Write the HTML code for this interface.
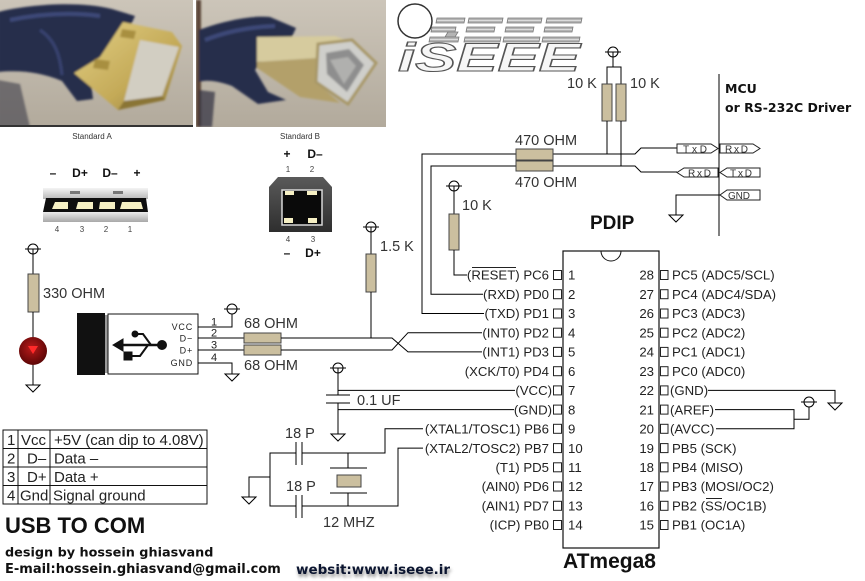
<!DOCTYPE html>
<html><head><meta charset="utf-8">
<style>
html,body{margin:0;padding:0;background:#fff;}
svg{display:block;}
text{font-family:"Liberation Sans",Arial,sans-serif;}
.w{fill:none;stroke:#000;stroke-width:1;}
.r{fill:#cbbf9f;stroke:#444;stroke-width:1;}
.lb{font-size:14.5px;fill:#333;}
.pl{font-size:13.2px;fill:#222;}
.bx{fill:#fff;stroke:#222;stroke-width:1;}
.bt{font-size:10px;fill:#333;}
.dj{font-family:"DejaVu Sans",sans-serif;font-weight:bold;}
</style></head><body>
<svg width="865" height="581" viewBox="0 0 865 581" xmlns="http://www.w3.org/2000/svg">
<defs>
 <filter id="bl" x="-10%" y="-10%" width="120%" height="120%"><feGaussianBlur stdDeviation="1.1"/></filter>
 <filter id="sh" x="-10%" y="-50%" width="120%" height="200%"><feGaussianBlur stdDeviation="1.6"/></filter>
 <linearGradient id="bgA" x1="0" y1="0" x2="0" y2="1"><stop offset="0" stop-color="#ccc5b9"/><stop offset="1" stop-color="#b2aa9c"/></linearGradient>
 <linearGradient id="gold" x1="0" y1="0" x2="1" y2="1"><stop offset="0" stop-color="#e2cf85"/><stop offset="0.6" stop-color="#c4aa58"/><stop offset="1" stop-color="#8f7a3a"/></linearGradient>
 <linearGradient id="ua" x1="0" y1="0" x2="0" y2="1"><stop offset="0" stop-color="#f4f4f4"/><stop offset="1" stop-color="#b8b8b8"/></linearGradient>
 <linearGradient id="ub" x1="0" y1="0" x2="0" y2="1"><stop offset="0" stop-color="#ececec"/><stop offset="1" stop-color="#a8a8a8"/></linearGradient>
 <linearGradient id="bb" x1="0" y1="0" x2="0" y2="1"><stop offset="0" stop-color="#5a5a5a"/><stop offset="1" stop-color="#2e2e2e"/></linearGradient>
 <radialGradient id="led" cx="0.45" cy="0.4" r="0.6"><stop offset="0" stop-color="#b81a1a"/><stop offset="1" stop-color="#5c0606"/></radialGradient>
 <clipPath id="cA"><rect x="0" y="0" width="193" height="127"/></clipPath>
 <clipPath id="cB"><rect x="196" y="0" width="190" height="127"/></clipPath>
 <g id="vcc"><circle cx="0" cy="0" r="5" fill="#fff" stroke="#000"/><line x1="-8" y1="0" x2="8" y2="0" stroke="#000"/></g>
 <g id="gnd"><line x1="-7" y1="0" x2="7" y2="0" stroke="#000"/><polygon points="-7,0 7,0 0,7" fill="#fff" stroke="#000"/></g>
</defs>

<!-- ===== Photo A ===== -->
<g clip-path="url(#cA)">
 <rect x="0" y="0" width="193" height="127" fill="url(#bgA)"/>
 <g filter="url(#bl)">
  <path d="M-2,12 C30,4 80,1 112,9 L135,16 L129,29 L102,55 L90,75 L93,99 L77,101 L62,81 C40,72 20,70 -2,72 Z" fill="#262d4c"/>
  <path d="M10,20 C40,14 70,12 100,16" stroke="#3d4878" stroke-width="4" fill="none"/>
  <path d="M40,30 C55,40 60,55 62,75" stroke="#384370" stroke-width="3" fill="none"/>
  <path d="M-2,80 L20,84 L30,127 L-2,127 Z" fill="#3a3a48" opacity="0.6"/>
  <path d="M123,22 L172,32 L182,46 L165,100 L118,110 L74,73 L100,57 Z" fill="url(#gold)"/>
  <path d="M140,40 L179,47 L162,96 L124,101 Z" fill="#d2cec2"/>
  <path d="M122,29 L136,31 L134,39 L120,37 Z" fill="#a88f40"/>
  <path d="M95,59 L110,61 L108,70 L93,68 Z" fill="#a88f40"/>
  <path d="M118,110 L165,100 L162,96 L124,101 Z" fill="#8a7434"/>
 </g>
 <rect x="0" y="125" width="193" height="2" fill="#333"/>
</g>

<!-- ===== Photo B ===== -->
<g clip-path="url(#cB)">
 <rect x="196" y="0" width="190" height="127" fill="url(#bgA)"/>
 <g filter="url(#bl)">
  <rect x="196" y="0" width="5" height="127" fill="#5a4438"/>
  <path d="M199,30 C220,22 250,15 270,17 L296,28 L290,41 L262,60 L255,70 L268,92 L286,100 L258,104 L232,86 C215,80 205,80 199,82 Z" fill="#262d4c"/>
  <path d="M205,40 C225,32 250,27 275,26" stroke="#3d4878" stroke-width="4" fill="none"/>
  <path d="M199,90 L215,92 L212,127 L199,127 Z" fill="#2e3040" opacity="0.7"/>
  <path d="M257,37 L335,36 L352,42 L318,58 L257,62 Z" fill="#d6cb9e"/>
  <path d="M257,62 L318,58 L316,82 L340,103 L300,97 L257,68 Z" fill="#b3a06a"/>
  <path d="M318,44 L352,40 L376,63 L348,104 L316,82 Z" fill="#cfcfcb" stroke="#a89868" stroke-width="3"/>
  <path d="M326,53 L349,49 L364,65 L347,92 L327,74 Z" fill="#8e8e8e"/>
  <path d="M330,60 L348,57 L356,66 L344,84 Z" fill="#b0b0ae"/>
 </g>
</g>
<text x="92" y="139" font-size="8" fill="#333" text-anchor="middle">Standard A</text>
<text x="300" y="139" font-size="8" fill="#333" text-anchor="middle">Standard B</text>

<!-- ===== Logo ===== -->
<circle cx="415" cy="21" r="17" fill="#fff" stroke="#333" stroke-width="1.5"/>
<g fill="#b4b4b4" stroke="#7a7a7a" stroke-width="0.8">
 <polygon points="437,18 465,18 464,23 436,23"/>
 <polygon points="432,27 456,27 455,32 431,32"/>
 <polygon points="448,32 458,32 455,37 445,37"/>
 <polygon points="430,37 459,37 458,42 429,42"/>
 <polygon points="469,18 503,18 502,23 468,23"/>
 <polygon points="467,27 495,27 494,32 466,32"/>
 <polygon points="465,37 501,37 500,42 464,42"/>
 <polygon points="508,18 542,18 541,23 507,23"/>
 <polygon points="506,27 534,27 533,32 505,32"/>
 <polygon points="504,37 540,37 539,42 503,42"/>
 <polygon points="547,18 582,18 581,23 546,23"/>
 <polygon points="545,27 573,27 572,32 544,32"/>
 <polygon points="543,37 580,37 579,42 542,42"/>
</g>
<g stroke="#e8e8e8" stroke-width="0.8">
 <line x1="437" y1="20.5" x2="464" y2="20.5"/><line x1="469" y1="20.5" x2="502" y2="20.5"/><line x1="508" y1="20.5" x2="541" y2="20.5"/><line x1="547" y1="20.5" x2="581" y2="20.5"/>
 <line x1="432" y1="29.5" x2="455" y2="29.5"/><line x1="467" y1="29.5" x2="494" y2="29.5"/><line x1="506" y1="29.5" x2="533" y2="29.5"/><line x1="545" y1="29.5" x2="572" y2="29.5"/>
 <line x1="430" y1="39.5" x2="458" y2="39.5"/><line x1="465" y1="39.5" x2="500" y2="39.5"/><line x1="504" y1="39.5" x2="539" y2="39.5"/><line x1="543" y1="39.5" x2="579" y2="39.5"/>
</g>
<text x="398" y="71" font-size="40" font-weight="bold" font-style="italic" fill="#f6f6f6" stroke="#555" stroke-width="1.1" textLength="182" lengthAdjust="spacingAndGlyphs">iSEEE</text>

<!-- ===== USB A icon ===== -->
<text x="53" y="177" font-size="12" font-weight="bold" fill="#111" text-anchor="middle">–</text>
<text x="80" y="177" font-size="12" font-weight="bold" fill="#111" text-anchor="middle">D+</text>
<text x="110" y="177" font-size="12" font-weight="bold" fill="#111" text-anchor="middle">D–</text>
<text x="137" y="177" font-size="12" font-weight="bold" fill="#111" text-anchor="middle">+</text>
<rect x="43" y="188" width="105" height="11" fill="url(#ua)"/>
<rect x="70" y="191" width="10" height="3" fill="#777"/>
<rect x="113" y="191" width="10" height="3" fill="#777"/>
<path d="M46,198 L146,198 L148,212 L43,212 Z" fill="#0e0e0e"/>
<rect x="43" y="212" width="105" height="10" fill="url(#ub)"/>
<g fill="#f6f0c4">
 <path d="M55,202 L68,202 L68,209 L52,209 Z"/>
 <path d="M78,202 L93,202 L93,209 L76,209 Z"/>
 <path d="M100,202 L115,202 L115,209 L99,209 Z"/>
 <path d="M122,202 L141,202 L143,209 L120,209 Z"/>
</g>
<g font-size="8" fill="#444" text-anchor="middle">
 <text x="57" y="232">4</text><text x="82" y="232">3</text><text x="106" y="232">2</text><text x="130" y="232">1</text>
</g>

<!-- ===== USB B icon ===== -->
<text x="287" y="158" font-size="12" font-weight="bold" fill="#111" text-anchor="middle">+</text>
<text x="315" y="158" font-size="12" font-weight="bold" fill="#111" text-anchor="middle">D–</text>
<text x="288" y="172" font-size="8" fill="#444" text-anchor="middle">1</text>
<text x="312" y="172" font-size="8" fill="#444" text-anchor="middle">2</text>
<path d="M278,177 L323,177 L332,187 L332,232 L269,232 L269,187 Z" fill="url(#bb)"/>
<rect x="282" y="190" width="40" height="35" fill="#0a0a0a" stroke="#d8d8d8" stroke-width="1.5"/>
<g fill="#f6f0c4">
 <rect x="285" y="191" width="9" height="4"/><rect x="307" y="191" width="10" height="4"/>
 <rect x="284" y="218" width="9" height="5"/><rect x="308" y="218" width="9" height="5"/>
</g>
<text x="288" y="242" font-size="8" fill="#444" text-anchor="middle">4</text>
<text x="313" y="242" font-size="8" fill="#444" text-anchor="middle">3</text>
<text x="287" y="257" font-size="12" font-weight="bold" fill="#111" text-anchor="middle">–</text>
<text x="313" y="257" font-size="12" font-weight="bold" fill="#111" text-anchor="middle">D+</text>

<!-- ===== Top right: pullups, 470 ohm, bus ===== -->
<use href="#vcc" x="613" y="52"/>
<polyline class="w" points="613,52 613,67"/>
<polyline class="w" points="607,84 607,67 621,67 621,84"/>
<rect class="r" x="602" y="84" width="10" height="37"/>
<rect class="r" x="616" y="84" width="10" height="37"/>
<polyline class="w" points="607,121 607,154"/>
<polyline class="w" points="621,121 621,166"/>
<text class="lb" x="567" y="88">10 K</text>
<text class="lb" x="630" y="88">10 K</text>

<polyline class="w" points="484,313.5 422,313.5 422,154 516,154"/>
<polyline class="w" points="553,154 635,154 641,148 677,148"/>
<polyline class="w" points="483,294.2 431,294.2 431,166 516,166"/>
<polyline class="w" points="553,166 635,166 641,172 677,172"/>
<rect class="r" x="516" y="149" width="37" height="11"/>
<rect class="r" x="516" y="161" width="37" height="10"/>
<text class="lb" x="515" y="145">470 OHM</text>
<text class="lb" x="515" y="187">470 OHM</text>

<line class="w" x1="719" y1="74" x2="719" y2="236"/>
<polygon class="bx" points="677,144 711,144 718,148.5 711,153 677,153"/>
<polygon class="bx" points="720,144 753,144 760,148.5 753,153 720,153"/>
<polygon class="bx" points="684,168 718,168 718,177 684,177 677,172.5"/>
<polygon class="bx" points="727,168 760,168 760,177 727,177 720,172.5"/>
<polygon class="bx" points="727,190 760,190 760,200 727,200 720,195"/>
<text class="bt" x="683" y="152.5" textLength="24">TxD</text>
<text class="bt" x="725" y="152.5" textLength="23">RxD</text>
<text class="bt" x="688" y="176.5" textLength="23">RxD</text>
<text class="bt" x="730" y="176.5" textLength="22">TxD</text>
<text class="bt" x="728" y="199" textLength="22">GND</text>
<polyline class="w" points="720,195 676,195 676,215"/>
<use href="#gnd" x="676" y="215"/>
<text class="dj" x="725" y="93" font-size="12.5" fill="#111">MCU</text>
<text class="dj" x="725" y="112" font-size="12.5" fill="#111">or RS-232C Driver</text>

<!-- reset pullup -->
<use href="#vcc" x="454" y="186"/>
<polyline class="w" points="454,186 454,214"/>
<rect class="r" x="449" y="214" width="10" height="36"/>
<polyline class="w" points="454,250 454,275 467,275"/>
<text class="lb" x="462" y="210">10 K</text>

<text x="590" y="229" font-size="19" font-weight="bold" fill="#111">PDIP</text>

<!-- ===== Chip ===== -->
<rect x="563" y="251" width="96" height="297" fill="#fff" stroke="#111" stroke-width="1.2"/>
<path d="M601,251 A10,10 0 0 0 621,251" fill="none" stroke="#111"/>
<text x="563" y="568" font-size="21" font-weight="bold" fill="#111">ATmega8</text>

<g fill="#fff" stroke="#222" stroke-width="1">
 <rect x="553.5" y="270.5" width="8" height="9"/><rect x="553.5" y="289.7" width="8" height="9"/>
 <rect x="553.5" y="309" width="8" height="9"/><rect x="553.5" y="328.2" width="8" height="9"/>
 <rect x="553.5" y="347.4" width="8" height="9"/><rect x="553.5" y="366.7" width="8" height="9"/>
 <rect x="553.5" y="385.9" width="8" height="9"/><rect x="553.5" y="405.1" width="8" height="9"/>
 <rect x="553.5" y="424.3" width="8" height="9"/><rect x="553.5" y="443.6" width="8" height="9"/>
 <rect x="553.5" y="462.8" width="8" height="9"/><rect x="553.5" y="482" width="8" height="9"/>
 <rect x="553.5" y="501.3" width="8" height="9"/><rect x="553.5" y="520.5" width="8" height="9"/>
 <rect x="660.5" y="270.5" width="7.5" height="9"/><rect x="660.5" y="289.7" width="7.5" height="9"/>
 <rect x="660.5" y="309" width="7.5" height="9"/><rect x="660.5" y="328.2" width="7.5" height="9"/>
 <rect x="660.5" y="347.4" width="7.5" height="9"/><rect x="660.5" y="366.7" width="7.5" height="9"/>
 <rect x="660.5" y="385.9" width="7.5" height="9"/><rect x="660.5" y="405.1" width="7.5" height="9"/>
 <rect x="660.5" y="424.3" width="7.5" height="9"/><rect x="660.5" y="443.6" width="7.5" height="9"/>
 <rect x="660.5" y="462.8" width="7.5" height="9"/><rect x="660.5" y="482" width="7.5" height="9"/>
 <rect x="660.5" y="501.3" width="7.5" height="9"/><rect x="660.5" y="520.5" width="7.5" height="9"/>
</g>

<g class="pl" text-anchor="end">
 <text x="549" y="279.7">(RESET) PC6</text>
 <text x="549" y="298.9">(RXD) PD0</text>
 <text x="549" y="318.2">(TXD) PD1</text>
 <text x="549" y="337.4">(INT0) PD2</text>
 <text x="549" y="356.6">(INT1) PD3</text>
 <text x="549" y="375.9">(XCK/T0) PD4</text>
 <text x="552" y="395.1">(VCC)</text>
 <text x="552" y="414.3">(GND)</text>
 <text x="549" y="433.5">(XTAL1/TOSC1) PB6</text>
 <text x="549" y="452.8">(XTAL2/TOSC2) PB7</text>
 <text x="549" y="472">(T1) PD5</text>
 <text x="549" y="491.2">(AIN0) PD6</text>
 <text x="549" y="510.5">(AIN1) PD7</text>
 <text x="549" y="529.7">(ICP) PB0</text>
</g>
<line x1="472" y1="267.5" x2="516" y2="267.5" stroke="#222"/>
<g class="pl">
 <text x="568" y="279.7">1</text><text x="568" y="298.9">2</text><text x="568" y="318.2">3</text>
 <text x="568" y="337.4">4</text><text x="568" y="356.6">5</text><text x="568" y="375.9">6</text>
 <text x="568" y="395.1">7</text><text x="568" y="414.3">8</text><text x="568" y="433.5">9</text>
 <text x="568" y="452.8">10</text><text x="568" y="472">11</text><text x="568" y="491.2">12</text>
 <text x="568" y="510.5">13</text><text x="568" y="529.7">14</text>
</g>
<g class="pl" text-anchor="end">
 <text x="654" y="279.7">28</text><text x="654" y="298.9">27</text><text x="654" y="318.2">26</text>
 <text x="654" y="337.4">25</text><text x="654" y="356.6">24</text><text x="654" y="375.9">23</text>
 <text x="654" y="395.1">22</text><text x="654" y="414.3">21</text><text x="654" y="433.5">20</text>
 <text x="654" y="452.8">19</text><text x="654" y="472">18</text><text x="654" y="491.2">17</text>
 <text x="654" y="510.5">16</text><text x="654" y="529.7">15</text>
</g>
<g class="pl">
 <text x="672" y="279.7">PC5 (ADC5/SCL)</text>
 <text x="672" y="298.9">PC4 (ADC4/SDA)</text>
 <text x="672" y="318.2">PC3 (ADC3)</text>
 <text x="672" y="337.4">PC2 (ADC2)</text>
 <text x="672" y="356.6">PC1 (ADC1)</text>
 <text x="672" y="375.9">PC0 (ADC0)</text>
 <text x="670" y="395.1">(GND)</text>
 <text x="670" y="414.3">(AREF)</text>
 <text x="670" y="433.5">(AVCC)</text>
 <text x="672" y="452.8">PB5 (SCK)</text>
 <text x="672" y="472">PB4 (MISO)</text>
 <text x="672" y="491.2">PB3 (MOSI/OC2)</text>
 <text x="672" y="510.5">PB2 (SS/OC1B)</text>
 <text x="672" y="529.7">PB1 (OC1A)</text>
</g>
<line x1="706" y1="498.5" x2="722" y2="498.5" stroke="#222"/>

<!-- right side wiring -->
<polyline class="w" points="708,390.4 835,390.4 835,403"/>
<use href="#gnd" x="835" y="403"/>
<polyline class="w" points="715,409.6 794,409.6 794,428.8 716,428.8"/>
<polyline class="w" points="794,419.3 809,419.3 809,402"/>
<use href="#vcc" x="809" y="402"/>

<!-- ===== 330 ohm + LED ===== -->
<use href="#vcc" x="33" y="249"/>
<polyline class="w" points="33,249 33,274"/>
<rect class="r" x="28" y="274" width="11" height="38"/>
<polyline class="w" points="33,312 33,337"/>
<circle cx="33" cy="351" r="14" fill="url(#led)"/>
<polygon points="28,346 38,346 33,354" fill="#ff2a2a"/>
<polyline class="w" points="33,365 33,385"/>
<use href="#gnd" x="33" y="385"/>
<text class="lb" x="43" y="298" font-size="15">330 OHM</text>

<!-- ===== USB connector symbol ===== -->
<rect x="77" y="313" width="28" height="62" fill="#111"/>
<rect x="105" y="315" width="3" height="58" fill="#999"/>
<rect x="108" y="314" width="90" height="60" fill="#fff" stroke="#111"/>
<g fill="#111" stroke="#111">
 <line x1="120" y1="345" x2="160" y2="345" stroke-width="2.5"/>
 <polygon points="113,345 123,339 123,351"/>
 <circle cx="162" cy="345" r="4.5"/>
 <polyline points="136,334 143,334 151,345" fill="none" stroke-width="2"/>
 <circle cx="135" cy="334" r="3"/>
 <polyline points="131,356 140,356 148,345" fill="none" stroke-width="2"/>
 <rect x="124" y="352" width="8" height="8"/>
</g>
<g font-size="9" fill="#222" text-anchor="end" letter-spacing="0.8">
 <text x="193" y="330">VCC</text><text x="193" y="341.5">D−</text><text x="193" y="353.5">D+</text><text x="193" y="366">GND</text>
</g>
<g font-size="11" fill="#222">
 <text x="211" y="325.5">1</text><text x="211" y="336.5">2</text><text x="211" y="348.5">3</text><text x="211" y="361">4</text>
</g>
<polyline class="w" points="198,327 232,327 232,309"/>
<use href="#vcc" x="232" y="309"/>
<polyline class="w" points="198,363 232,363 232,374"/>
<use href="#gnd" x="232" y="374"/>
<polyline class="w" points="198,338 244,338"/>
<polyline class="w" points="198,350 244,350"/>
<rect class="r" x="244" y="333" width="37" height="10"/>
<rect class="r" x="244" y="345" width="37" height="10"/>
<polyline class="w" points="281,338 392,338 408,351.9 482,351.9"/>
<polyline class="w" points="281,350 392,350 408,332.7 482,332.7"/>
<text class="lb" x="244" y="328">68 OHM</text>
<text class="lb" x="244" y="370">68 OHM</text>

<!-- 1.5K -->
<use href="#vcc" x="371" y="227"/>
<polyline class="w" points="371,227 371,254"/>
<rect class="r" x="366" y="254" width="10" height="38"/>
<polyline class="w" points="371,292 371,338"/>
<text class="lb" x="380" y="251">1.5 K</text>

<!-- 0.1uF -->
<use href="#vcc" x="338" y="368"/>
<polyline class="w" points="338,368 338,395"/>
<line class="w" x1="326" y1="395" x2="350" y2="395"/>
<line class="w" x1="326" y1="403" x2="350" y2="403"/>
<polyline class="w" points="338,403 338,434"/>
<use href="#gnd" x="338" y="434"/>
<polyline class="w" points="338,390.4 515,390.4"/>
<polyline class="w" points="338,409.6 514,409.6"/>
<text class="lb" x="357" y="405">0.1 UF</text>

<!-- crystal -->
<polyline class="w" points="296,453 270,453 270,506 296,506"/>
<polyline class="w" points="270,477 249,477 249,497"/>
<use href="#gnd" x="249" y="497"/>
<line class="w" x1="296" y1="442" x2="296" y2="465"/>
<line class="w" x1="302" y1="442" x2="302" y2="465"/>
<line class="w" x1="296" y1="495" x2="296" y2="518"/>
<line class="w" x1="302" y1="495" x2="302" y2="518"/>
<polyline class="w" points="302,453 385,453 385,428.8 423,428.8"/>
<polyline class="w" points="302,506 398,506 398,448.1 423,448.1"/>
<polyline class="w" points="348,453 348,468"/>
<line class="w" x1="330" y1="468" x2="367" y2="468"/>
<rect class="r" x="337" y="475" width="24" height="12"/>
<line class="w" x1="330" y1="493" x2="367" y2="493"/>
<polyline class="w" points="348,493 348,506"/>
<text class="lb" x="285" y="438" font-size="15">18 P</text>
<text class="lb" x="286" y="491" font-size="15">18 P</text>
<text class="lb" x="323" y="527">12 MHZ</text>

<!-- ===== Table ===== -->
<g fill="none" stroke="#111" stroke-width="1">
 <rect x="3" y="430" width="204" height="74"/>
 <line x1="3" y1="448.5" x2="207" y2="448.5"/>
 <line x1="3" y1="467" x2="207" y2="467"/>
 <line x1="3" y1="485.5" x2="207" y2="485.5"/>
 <line x1="18" y1="430" x2="18" y2="504"/>
 <line x1="50" y1="430" x2="50" y2="504"/>
</g>
<g font-size="15" fill="#222">
 <text x="7" y="445">1</text><text x="21" y="445">Vcc</text><text x="54" y="445">+5V (can dip to 4.08V)</text>
 <text x="7" y="463.5">2</text><text x="27" y="463.5">D–</text><text x="54" y="463.5">Data –</text>
 <text x="7" y="482">3</text><text x="27" y="482">D+</text><text x="54" y="482">Data +</text>
 <text x="7" y="500.5">4</text><text x="20" y="500.5">Gnd</text><text x="53" y="500.5">Signal ground</text>
</g>

<!-- ===== Footer ===== -->
<text x="5" y="533" font-size="22" font-weight="bold" fill="#111">USB TO COM</text>
<text class="dj" x="5" y="556.5" font-size="12.8" fill="#111">design by hossein ghiasvand</text>
<text class="dj" x="5" y="573" font-size="13" fill="#111">E-mail:hossein.ghiasvand@gmail.com</text>
<text class="dj" x="297" y="577" font-size="13.5" fill="#777" filter="url(#sh)" opacity="0.8">websit:www.iseee.ir</text>
<text class="dj" x="296" y="574" font-size="13.5" fill="#0b1530">websit:www.iseee.ir</text>
</svg>
</body></html>
